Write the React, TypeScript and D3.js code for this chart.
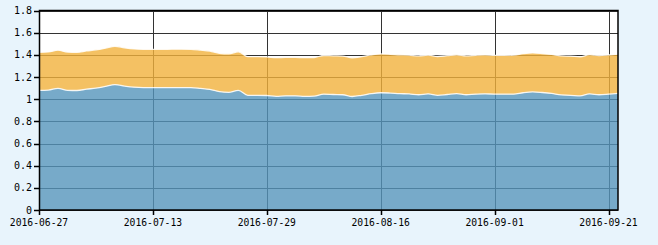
import React, { useEffect } from "react";
import * as d3 from "d3";

const dates: string[] = [
  "2016-06-27","2016-06-28","2016-06-29","2016-06-30","2016-07-01",
  "2016-07-04","2016-07-05","2016-07-06","2016-07-07","2016-07-08",
  "2016-07-11","2016-07-12","2016-07-13","2016-07-14","2016-07-15",
  "2016-07-18","2016-07-19","2016-07-20","2016-07-21","2016-07-22",
  "2016-07-25","2016-07-26","2016-07-27","2016-07-28","2016-07-29",
  "2016-08-01","2016-08-02","2016-08-03","2016-08-04","2016-08-05",
  "2016-08-08","2016-08-09","2016-08-10","2016-08-11","2016-08-12",
  "2016-08-15","2016-08-16","2016-08-17","2016-08-18","2016-08-19",
  "2016-08-22","2016-08-23","2016-08-24","2016-08-25","2016-08-26",
  "2016-08-29","2016-08-30","2016-08-31","2016-09-01","2016-09-02",
  "2016-09-05","2016-09-06","2016-09-07","2016-09-08","2016-09-09",
  "2016-09-12","2016-09-13","2016-09-14","2016-09-19","2016-09-20",
  "2016-09-21","2016-09-22",
];

const seriesA: number[] = [
  1.08, 1.082, 1.098, 1.08, 1.078, 1.09, 1.1, 1.115, 1.132, 1.118,
  1.108, 1.105, 1.105, 1.105, 1.105, 1.105, 1.104, 1.097, 1.088, 1.068,
  1.062, 1.08, 1.035, 1.035, 1.033, 1.026, 1.03, 1.03, 1.026, 1.028,
  1.045, 1.042, 1.04, 1.024, 1.035, 1.05, 1.058, 1.055, 1.05, 1.047,
  1.04, 1.048, 1.035, 1.042, 1.05, 1.04, 1.045, 1.048, 1.045, 1.045,
  1.045, 1.058, 1.065, 1.06, 1.052, 1.038, 1.035, 1.029, 1.048, 1.04,
  1.045, 1.052,
];

const seriesB: number[] = [
  0.343, 0.344, 0.344, 0.345, 0.345, 0.345, 0.345, 0.345, 0.345, 0.345,
  0.345, 0.345, 0.345, 0.345, 0.346, 0.346, 0.346, 0.346, 0.346, 0.346,
  0.347, 0.347, 0.348, 0.348, 0.348, 0.348, 0.348, 0.348, 0.348, 0.348,
  0.349, 0.349, 0.349, 0.349, 0.349, 0.349, 0.35, 0.35, 0.35, 0.35,
  0.35, 0.35, 0.35, 0.35, 0.35, 0.351, 0.351, 0.351, 0.351, 0.351,
  0.352, 0.352, 0.352, 0.352, 0.352, 0.353, 0.353, 0.353, 0.353, 0.354,
  0.354, 0.354,
];

const yTicks: number[] = [0, 0.2, 0.4, 0.6, 0.8, 1, 1.2, 1.4, 1.6, 1.8];
const xTickLabels: string[] = ["2016-06-27", "2016-07-13", "2016-07-29", "2016-08-16", "2016-09-01", "2016-09-21"];

const W = 658, H = 245;
const left = 39, right = 618, top = 10.5, bottom = 210;

export default function App() {
  useEffect(() => {
    document.body.style.margin = "0";
  }, []);

  const x = d3.scalePoint<string>().domain(dates).range([left, right]);
  const y = d3.scaleLinear().domain([0, 1.8]).range([bottom, top]);

  const rows = dates.map((d, i) => ({ date: d, a: seriesA[i], b: seriesB[i] }));
  const stack = d3.stack<any>().keys(["a", "b"]);
  const layers = stack(rows);

  const area = d3
    .area<any>()
    .x((d) => x(d.data.date) as number)
    .y0((d) => y(d[0]))
    .y1((d) => y(d[1]))
    .curve(d3.curveMonotoneX);
  const line = d3
    .line<any>()
    .x((d) => x(d.data.date) as number)
    .y((d) => y(d[1]))
    .curve(d3.curveMonotoneX);

  const colors = ["#5595bb", "#f1b23c"];
  const font = "'DejaVu Sans Mono', monospace";

  return (
    <svg width={W} height={H} style={{ display: "block" }}>
      <rect x={0} y={0} width={W} height={H} fill="#e8f4fc" />
      <rect x={left} y={top} width={right - left} height={bottom - top} fill="#ffffff" />
      {yTicks.map((t) => (
        <line key={"gy" + t} x1={left} x2={right} y1={Math.round(y(t)) + 0.5} y2={Math.round(y(t)) + 0.5} stroke="#333" strokeWidth={1} />
      ))}
      {xTickLabels.map((t) => (
        <line key={"gx" + t} x1={Math.round(x(t) as number) + 0.5} x2={Math.round(x(t) as number) + 0.5} y1={top} y2={bottom} stroke="#333" strokeWidth={1} />
      ))}
      {layers.map((L, i) => (
        <path key={"a" + i} d={area(L) || ""} fill={colors[i]} fillOpacity={0.8} />
      ))}
      {layers.map((L, i) => (
        <path key={"l" + i} d={line(L) || ""} fill="none" stroke="#ffffff" strokeOpacity={0.85} strokeWidth={1.3} />
      ))}
      <rect x={left + 0.5} y={top} width={right - left - 0.5} height={bottom - top} fill="none" stroke="#000" strokeWidth={1.5} />
      {yTicks.map((t) => (
        <g key={"ty" + t}>
          <line x1={left - 5} x2={left} y1={Math.round(y(t)) + 0.5} y2={Math.round(y(t)) + 0.5} stroke="#000" strokeWidth={1.5} />
          <text x={left - 7} y={y(t)} dy="0.35em" textAnchor="end" fontFamily={font} fontSize={10} fill="#000">
            {String(t)}
          </text>
        </g>
      ))}
      {xTickLabels.map((t) => (
        <g key={"tx" + t}>
          <line x1={Math.round(x(t) as number) + 0.5} x2={Math.round(x(t) as number) + 0.5} y1={bottom} y2={bottom + 5} stroke="#000" strokeWidth={1.5} />
          <text x={x(t) as number} y={226} textAnchor="middle" fontFamily={font} fontSize={9.7} fill="#000">
            {t}
          </text>
        </g>
      ))}
    </svg>
  );
}
